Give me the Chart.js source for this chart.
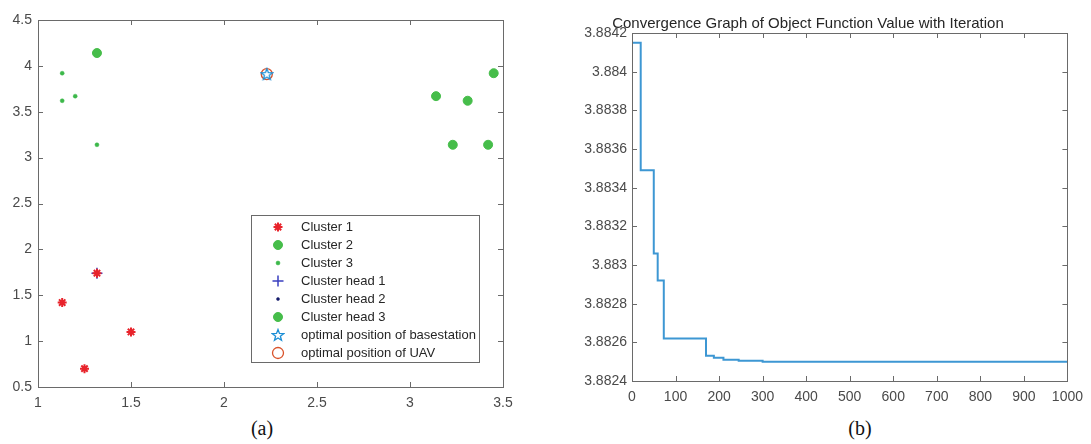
<!DOCTYPE html>
<html>
<head>
<meta charset="utf-8">
<script src="https://cdn.jsdelivr.net/npm/chart.js@4.4.0/dist/chart.umd.min.js"></script>
<style>
  body { margin: 0; background: #fff; width: 1091px; height: 444px; position: relative; overflow: hidden; }
  canvas { position: absolute; top: 0; }
  #chartA { left: 0; }
  #chartB { left: 545px; }
  .sub { position: absolute; top: 417px; font-family: 'Liberation Serif', 'Times New Roman', serif; font-size: 20px; color: #111; transform: translateX(-50%); }
</style>
</head>
<body>
<canvas id="chartA" width="545" height="416"></canvas>
<canvas id="chartB" width="546" height="416"></canvas>
<div class="sub" style="left:262px">(a)</div>
<div class="sub" style="left:860px">(b)</div>
<script>
// (a) clusters
const cluster1X = [1.13, 1.25, 1.50, 1.317];
const cluster1Y = [1.42, 0.70, 1.10, 1.74];
const cluster2X = [3.14, 3.31, 3.23, 3.42, 3.45];
const cluster2Y = [3.67, 3.62, 3.14, 3.14, 3.92];
const cluster3X = [1.13, 1.13, 1.20, 1.317];
const cluster3Y = [3.92, 3.62, 3.67, 3.14];
const head1X = [1.317], head1Y = [1.74];
const head2X = [3.14], head2Y = [3.67];
const head3X = [1.317], head3Y = [4.14];
const baseX = [2.23], baseY = [3.91];
const uavX = [2.23], uavY = [3.91];
const legendLabelsA = ['Cluster 1', 'Cluster 2', 'Cluster 3', 'Cluster head 1', 'Cluster head 2',
  'Cluster head 3', 'optimal position of basestation', 'optimal position of UAV'];
const xTicksA = [1, 1.5, 2, 2.5, 3, 3.5];
const yTicksA = [0.5, 1, 1.5, 2, 2.5, 3, 3.5, 4, 4.5];

// (b) convergence
const iterB = [1, 20, 50, 59, 73, 170, 188, 210, 245, 300, 1000];
const valueB = [3.88415, 3.88349, 3.88306, 3.88292, 3.88262, 3.88253, 3.88252, 3.88251, 3.882505, 3.8825, 3.8825];
const xTicksB = [0, 100, 200, 300, 400, 500, 600, 700, 800, 900, 1000];
const yTicksB = [3.8824, 3.8826, 3.8828, 3.883, 3.8832, 3.8834, 3.8836, 3.8838, 3.884, 3.8842];
const titleB = 'Convergence Graph of Object Function Value with Iteration';

Chart.defaults.font.family = "'Liberation Sans', Arial, sans-serif";
Chart.defaults.font.size = 14;
Chart.defaults.color = '#4a4a4a';

const AXIS_COLOR = '#6a6a6a';

function pts(xs, ys) {
  return xs.map((x, i) => ({ x: x, y: ys[i] }));
}

function fmt(v) {
  return String(Number(v.toFixed(5)));
}

// pentagram marker for the basestation
function makePentagram(color) {
  const c = document.createElement('canvas');
  c.width = 14; c.height = 14;
  const g = c.getContext('2d');
  g.strokeStyle = color;
  g.lineWidth = 1.3;
  g.beginPath();
  for (let i = 0; i <= 10; i++) {
    const r = i % 2 === 0 ? 6 : 2.5;
    const a = -Math.PI / 2 + i * Math.PI / 5;
    const px = 7 + r * Math.cos(a), py = 7.5 + r * Math.sin(a);
    if (i === 0) g.moveTo(px, py); else g.lineTo(px, py);
  }
  g.closePath();
  g.stroke();
  return c;
}
const pentagram = makePentagram('#1c8fd6');

// box with inward ticks on all four sides, like matlab
const boxPlugin = {
  id: 'matlabBox',
  afterDraw(chart) {
    const ctx = chart.ctx;
    const a = chart.chartArea;
    const xs = chart.scales.x, ys = chart.scales.y;
    ctx.save();
    ctx.strokeStyle = AXIS_COLOR;
    ctx.lineWidth = 1;
    ctx.strokeRect(Math.round(a.left) + 0.5, Math.round(a.top) + 0.5,
      Math.round(a.right - a.left), Math.round(a.bottom - a.top));
    ctx.beginPath();
    xs.ticks.forEach(t => {
      const px = Math.round(xs.getPixelForValue(t.value)) + 0.5;
      ctx.moveTo(px, a.bottom); ctx.lineTo(px, a.bottom - 5);
      ctx.moveTo(px, a.top); ctx.lineTo(px, a.top + 5);
    });
    ys.ticks.forEach(t => {
      const py = Math.round(ys.getPixelForValue(t.value)) + 0.5;
      ctx.moveTo(a.left, py); ctx.lineTo(a.left + 5, py);
      ctx.moveTo(a.right, py); ctx.lineTo(a.right - 5, py);
    });
    ctx.stroke();
    ctx.restore();
  }
};

// legend box inside plot (a), lower right
const legendPlugin = {
  id: 'insideLegend',
  afterDraw(chart) {
    const ctx = chart.ctx;
    const left = 251, top = 215, right = 479, bottom = 362;
    ctx.save();
    ctx.fillStyle = '#fff';
    ctx.fillRect(left, top, right - left, bottom - top);
    ctx.strokeStyle = AXIS_COLOR;
    ctx.lineWidth = 1;
    ctx.strokeRect(left + 0.5, top + 0.5, right - left, bottom - top);
    chart.data.datasets.forEach((ds, i) => {
      const y = 227 + 18 * i;
      ctx.fillStyle = ds.backgroundColor;
      ctx.strokeStyle = ds.borderColor;
      ctx.lineWidth = ds.borderWidth;
      Chart.helpers.drawPoint(ctx, {
        pointStyle: ds.pointStyle, radius: ds.pointRadius, rotation: 0, borderWidth: ds.borderWidth
      }, 278, y);
      ctx.fillStyle = '#262626';
      ctx.font = "13px 'Liberation Sans', Arial, sans-serif";
      ctx.textBaseline = 'middle';
      ctx.textAlign = 'left';
      ctx.fillText(legendLabelsA[i], 301, y + 0.5);
    });
    ctx.restore();
  }
};

new Chart(document.getElementById('chartA'), {
  type: 'scatter',
  data: {
    datasets: [
      { label: legendLabelsA[0], data: pts(cluster1X, cluster1Y), pointStyle: 'star', pointRadius: 4.5,
        borderColor: '#e8232b', backgroundColor: '#e8232b', borderWidth: 2 },
      { label: legendLabelsA[1], data: pts(cluster2X, cluster2Y), pointStyle: 'circle', pointRadius: 4.5,
        borderColor: '#46bd4a', backgroundColor: '#46bd4a', borderWidth: 1 },
      { label: legendLabelsA[2], data: pts(cluster3X, cluster3Y), pointStyle: 'circle', pointRadius: 2,
        borderColor: '#3cb84a', backgroundColor: '#3cb84a', borderWidth: 0.5 },
      { label: legendLabelsA[3], data: pts(head1X, head1Y), pointStyle: 'cross', pointRadius: 5.5,
        borderColor: '#3a3fc0', backgroundColor: '#3a3fc0', borderWidth: 1.5 },
      { label: legendLabelsA[4], data: pts(head2X, head2Y), pointStyle: 'circle', pointRadius: 1.5,
        borderColor: '#141a6a', backgroundColor: '#141a6a', borderWidth: 0.5 },
      { label: legendLabelsA[5], data: pts(head3X, head3Y), pointStyle: 'circle', pointRadius: 4.5,
        borderColor: '#46bd4a', backgroundColor: '#46bd4a', borderWidth: 1 },
      { label: legendLabelsA[6], data: pts(baseX, baseY), pointStyle: pentagram, pointRadius: 6,
        borderColor: '#1c8fd6', backgroundColor: '#1c8fd6', borderWidth: 1.3 },
      { label: legendLabelsA[7], data: pts(uavX, uavY), pointStyle: 'circle', pointRadius: 5.5,
        borderColor: '#d9532b', backgroundColor: 'rgba(0,0,0,0)', borderWidth: 1.3 }
    ]
  },
  options: {
    responsive: false,
    animation: false,
    events: [],
    layout: { padding: { left: 0, top: 20, right: 42, bottom: 6 } },
    plugins: { legend: { display: false }, tooltip: { enabled: false } },
    scales: {
      x: {
        type: 'linear', min: 1, max: 3.5,
        afterBuildTicks: s => { s.ticks = xTicksA.map(v => ({ value: v })); },
        afterFit: s => { s.height = 23; },
        grid: { display: false, drawTicks: false }, border: { display: false },
        ticks: { padding: 8, callback: v => fmt(v), maxRotation: 0 }
      },
      y: {
        type: 'linear', min: 0.5, max: 4.5,
        afterBuildTicks: s => { s.ticks = yTicksA.map(v => ({ value: v })); },
        afterFit: s => { s.width = 38; },
        grid: { display: false, drawTicks: false }, border: { display: false },
        ticks: { padding: 6, callback: v => fmt(v) }
      }
    }
  },
  plugins: [boxPlugin, legendPlugin]
});

new Chart(document.getElementById('chartB'), {
  type: 'line',
  data: {
    datasets: [{
      label: 'objective',
      data: pts(iterB, valueB),
      stepped: true,
      borderColor: '#3d97d3',
      borderWidth: 2,
      pointRadius: 0,
      fill: false
    }]
  },
  options: {
    responsive: false,
    animation: false,
    events: [],
    layout: { padding: { left: 0, top: 0, right: 20, bottom: 6 } },
    plugins: {
      legend: { display: false },
      tooltip: { enabled: false },
      title: {
        display: true, text: titleB, color: '#262626',
        font: { size: 15, weight: 'normal' },
        padding: { top: 15, bottom: 0 }
      }
    },
    scales: {
      x: {
        type: 'linear', min: 0, max: 1000,
        afterBuildTicks: s => { s.ticks = xTicksB.map(v => ({ value: v })); },
        afterFit: s => { s.height = 29; },
        grid: { display: false, drawTicks: false }, border: { display: false },
        ticks: { padding: 8, callback: v => fmt(v), maxRotation: 0 }
      },
      y: {
        type: 'linear', min: 3.8824, max: 3.8842,
        afterBuildTicks: s => { s.ticks = yTicksB.map(v => ({ value: v })); },
        afterFit: s => { s.width = 87; },
        grid: { display: false, drawTicks: false }, border: { display: false },
        ticks: { padding: 5, callback: v => fmt(v) }
      }
    }
  },
  plugins: [boxPlugin]
});
</script>
</body>
</html>
